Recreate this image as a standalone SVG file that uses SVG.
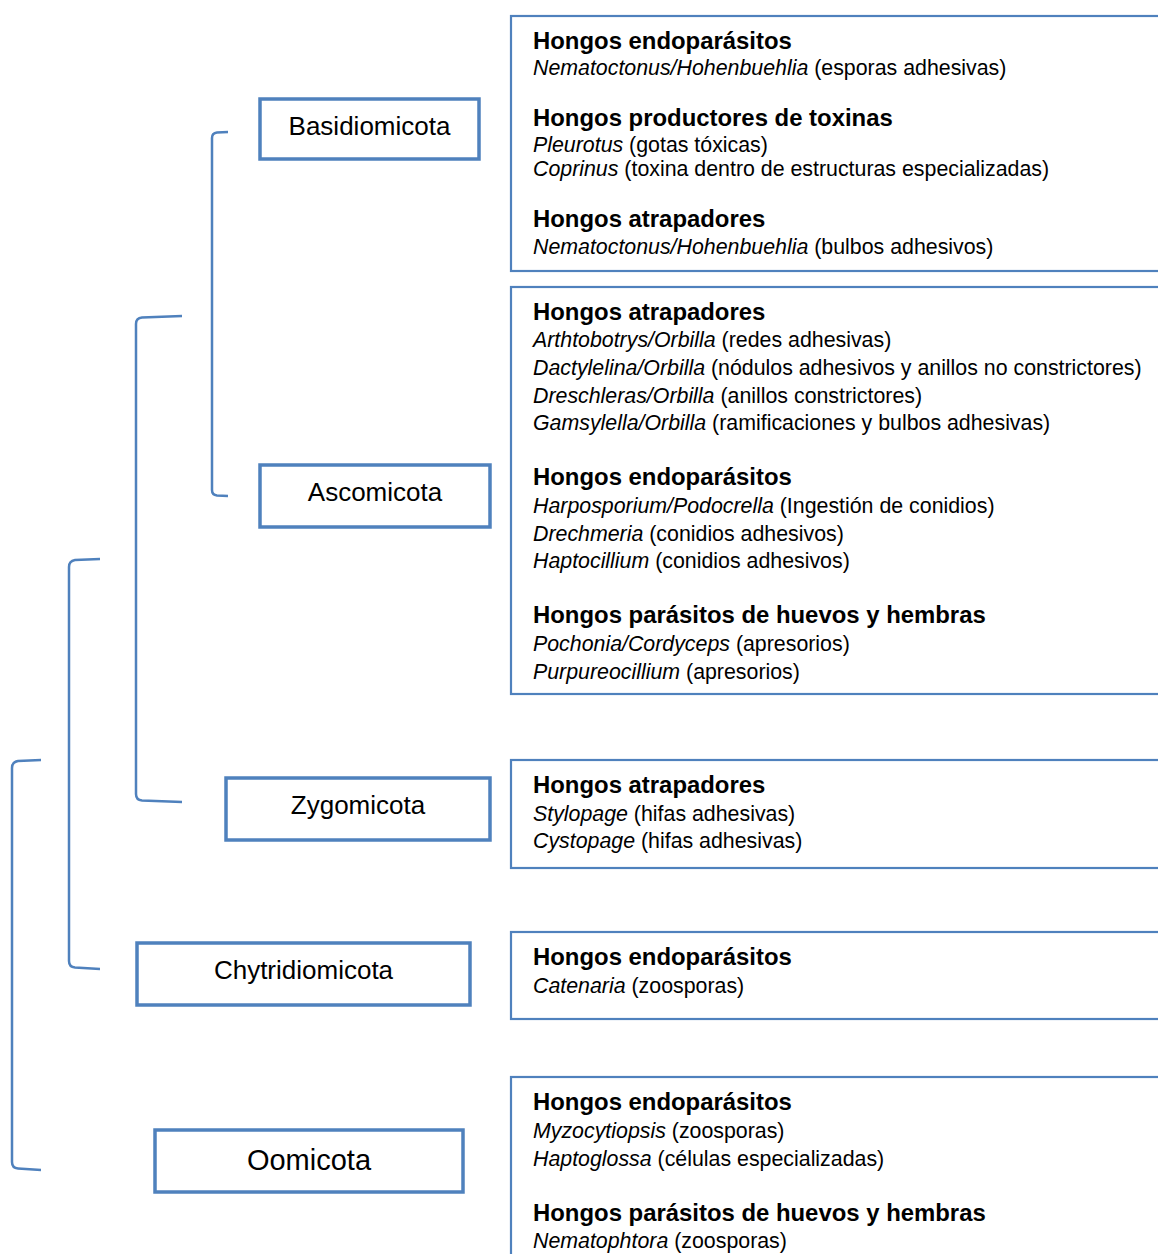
<svg xmlns="http://www.w3.org/2000/svg" width="1158" height="1254" viewBox="0 0 1158 1254">
<style>
.tax{fill:#fff;stroke:#4f81bd;stroke-width:3.5}
.info{fill:#fff;stroke:#4f81bd;stroke-width:2.2}
.lbl{font-family:"Liberation Sans",Arial,sans-serif;font-size:26px;fill:#000;text-anchor:middle}
.h{font-family:"Liberation Sans",Arial,sans-serif;font-size:23.9px;font-weight:bold;fill:#000}
.b{font-family:"Liberation Sans",Arial,sans-serif;font-size:21.35px;fill:#000}
.i{font-style:italic}
.br{fill:none;stroke:#4f81bd;stroke-width:2.5}
</style>
<rect width="1158" height="1254" fill="#fff"/>
<g id="connectors">
<path class="br" d="M228,132 L217,132.5 Q212,133 212,138 L212,490 Q212,495 217,495.5 L228,496"/>
<path class="br" d="M182,316 L142,317.5 Q136,318 136,324 L136,794 Q136,800 142,800.5 L182,802"/>
<path class="br" d="M100,559 L75,560 Q69,561 69,567 L69,961 Q69,967 75,967.5 L100,969"/>
<path class="br" d="M41,760 L18,761 Q12,762 12,768 L12,1162 Q12,1168 18,1168.5 L41,1170"/>
</g>
<g id="basidiomicota">
<rect class="tax" x="260" y="99" width="219" height="60"/>
<text class="lbl" x="369.5" y="135">Basidiomicota</text>
</g>
<g id="ascomicota">
<rect class="tax" x="260" y="465" width="230" height="62"/>
<text class="lbl" x="375" y="501">Ascomicota</text>
</g>
<g id="zygomicota">
<rect class="tax" x="226" y="778" width="264" height="62"/>
<text class="lbl" x="358" y="814">Zygomicota</text>
</g>
<g id="chytridiomicota">
<rect class="tax" x="137" y="943" width="333" height="62"/>
<text class="lbl" x="303.5" y="979">Chytridiomicota</text>
</g>
<g id="oomicota">
<rect class="tax" x="155" y="1130" width="308" height="62"/>
<text class="lbl" x="309" y="1170" style="font-size:29px">Oomicota</text>
</g>
<g id="info-basidiomicota">
<rect class="info" x="511" y="16" width="700" height="255"/>
<text class="h" x="533" y="49">Hongos endoparásitos</text>
<text class="b" x="533" y="75"><tspan class="i">Nematoctonus/Hohenbuehlia</tspan> (esporas adhesivas)</text>
<text class="h" x="533" y="126">Hongos productores de toxinas</text>
<text class="b" x="533" y="152"><tspan class="i">Pleurotus</tspan> (gotas tóxicas)</text>
<text class="b" x="533" y="176"><tspan class="i">Coprinus</tspan> (toxina dentro de estructuras especializadas)</text>
<text class="h" x="533" y="227">Hongos atrapadores</text>
<text class="b" x="533" y="254"><tspan class="i">Nematoctonus/Hohenbuehlia</tspan> (bulbos adhesivos)</text>
</g>
<g id="info-ascomicota">
<rect class="info" x="511" y="287" width="700" height="407"/>
<text class="h" x="533" y="320">Hongos atrapadores</text>
<text class="b" x="533" y="347"><tspan class="i">Arthtobotrys/Orbilla</tspan> (redes adhesivas)</text>
<text class="b" x="533" y="375"><tspan class="i">Dactylelina/Orbilla</tspan> (nódulos adhesivos y anillos no constrictores)</text>
<text class="b" x="533" y="403"><tspan class="i">Dreschleras/Orbilla</tspan> (anillos constrictores)</text>
<text class="b" x="533" y="430"><tspan class="i">Gamsylella/Orbilla</tspan> (ramificaciones y bulbos adhesivas)</text>
<text class="h" x="533" y="485">Hongos endoparásitos</text>
<text class="b" x="533" y="513"><tspan class="i">Harposporium/Podocrella</tspan> (Ingestión de conidios)</text>
<text class="b" x="533" y="541"><tspan class="i">Drechmeria</tspan> (conidios adhesivos)</text>
<text class="b" x="533" y="568"><tspan class="i">Haptocillium</tspan> (conidios adhesivos)</text>
<text class="h" x="533" y="623">Hongos parásitos de huevos y hembras</text>
<text class="b" x="533" y="651"><tspan class="i">Pochonia/Cordyceps</tspan> (apresorios)</text>
<text class="b" x="533" y="679"><tspan class="i">Purpureocillium</tspan> (apresorios)</text>
</g>
<g id="info-zygomicota">
<rect class="info" x="511" y="760" width="700" height="108"/>
<text class="h" x="533" y="793">Hongos atrapadores</text>
<text class="b" x="533" y="821"><tspan class="i">Stylopage</tspan> (hifas adhesivas)</text>
<text class="b" x="533" y="848"><tspan class="i">Cystopage</tspan> (hifas adhesivas)</text>
</g>
<g id="info-chytridiomicota">
<rect class="info" x="511" y="932" width="700" height="87"/>
<text class="h" x="533" y="965">Hongos endoparásitos</text>
<text class="b" x="533" y="993"><tspan class="i">Catenaria</tspan> (zoosporas)</text>
</g>
<g id="info-oomicota">
<rect class="info" x="511" y="1077" width="700" height="250"/>
<text class="h" x="533" y="1110">Hongos endoparásitos</text>
<text class="b" x="533" y="1138"><tspan class="i">Myzocytiopsis</tspan> (zoosporas)</text>
<text class="b" x="533" y="1166"><tspan class="i">Haptoglossa</tspan> (células especializadas)</text>
<text class="h" x="533" y="1221">Hongos parásitos de huevos y hembras</text>
<text class="b" x="533" y="1248"><tspan class="i">Nematophtora</tspan> (zoosporas)</text>
</g>
</svg>
